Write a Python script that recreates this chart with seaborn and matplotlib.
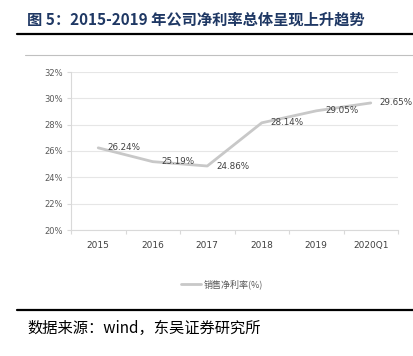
import matplotlib
matplotlib.use("Agg")
import matplotlib.pyplot as plt
import seaborn as sns
import pandas as pd
from matplotlib.lines import Line2D
from matplotlib.ticker import FixedLocator

categories = ["2015", "2016", "2017", "2018", "2019", "2020Q1"]
net_margin = [26.24, 25.19, 24.86, 28.14, 29.05, 29.65]
yticks = [20, 22, 24, 26, 28, 30, 32]
series_name = "销售净利率(%)"
title = "图 5：2015-2019 年公司净利率总体呈现上升趋势"
source = "数据来源：wind，东吴证券研究所"

sns.set_theme(style="white")
plt.rcParams['font.family'] = ['Noto Sans CJK SC', 'DejaVu Sans']

df = pd.DataFrame({"cat": categories, "val": net_margin})

fig = plt.figure(figsize=(4.13, 3.56), dpi=100)
W, H = 413, 356
ax = fig.add_axes([71 / W, 1 - 230 / H, 327 / W, 158 / H])

line_color = "#c8c8c8"
sns.lineplot(data=df, x="cat", y="val", ax=ax, color=line_color, linewidth=2,
             sort=False, label=series_name, legend=False)

ax.set_xlim(-0.5, len(categories) - 0.5)
ax.set_ylim(20, 32)
ax.set_yticks(yticks)
ax.set_yticklabels([f"{t}%" for t in yticks], fontsize=6, color="#595959",
                   family=['DejaVu Sans'])
ax.set_xticks(range(len(categories)))
ax.set_xticklabels(categories, fontsize=6.5, color="#404040", family=['DejaVu Sans'])
ax.xaxis.set_minor_locator(FixedLocator([i + 0.5 for i in range(-1, len(categories))]))
ax.tick_params(axis="x", which="major", length=0, pad=8)
ax.tick_params(axis="x", which="minor", length=3, color="#d9d9d9", width=0.8, bottom=True)
ax.tick_params(axis="y", length=3, color="#d9d9d9", width=0.8, left=True, pad=3)
ax.set_xlabel("")
ax.set_ylabel("")
ax.grid(axis="y", color="#e6e6e6", linewidth=0.8)
for s in ["top", "right"]:
    ax.spines[s].set_visible(False)
for s in ["left", "bottom"]:
    ax.spines[s].set_color("#d9d9d9")
    ax.spines[s].set_linewidth(0.8)

for i, v in enumerate(net_margin):
    ax.annotate(f"{v:.2f}%", (i, v), xytext=(6.5, 0), textcoords="offset points",
                ha="left", va="center", fontsize=6.3, color="#404040",
                family=['DejaVu Sans'])

# legend
fig.legend(handles=[Line2D([0], [0], color=line_color, linewidth=2)],
           labels=[series_name], loc="center", bbox_to_anchor=(222 / W, 1 - 284 / H),
           frameon=False, fontsize=6.5, labelcolor="#595959", handlelength=2.2,
           handletextpad=0.3)

# title and decorations
fig.text(27 / W, 1 - 20 / H, title, fontsize=11, fontweight="bold",
         color="#1f3864", ha="left", va="center")
fig.add_artist(Line2D([17 / W, 1], [1 - 34 / H, 1 - 34 / H], color="black", linewidth=1.6))
fig.add_artist(Line2D([25 / W, 1], [1 - 55 / H, 1 - 55 / H], color="#c0c0c0", linewidth=0.8))
fig.add_artist(Line2D([17 / W, 1], [1 - 310 / H, 1 - 310 / H], color="black", linewidth=1.6))
fig.text(27 / W, 1 - 328 / H, source, fontsize=11, color="black", ha="left", va="center")

fig.savefig("out.png", dpi=100)
